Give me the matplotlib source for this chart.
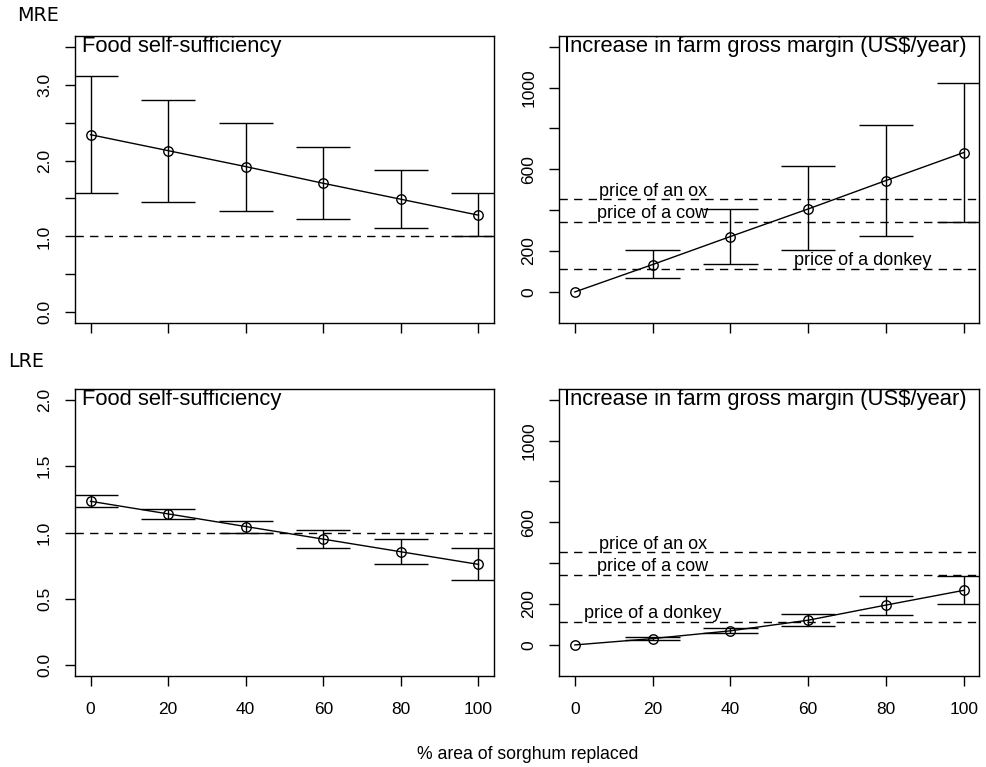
import matplotlib
matplotlib.use("Agg")
import matplotlib.pyplot as plt
import numpy as np

plt.rcParams['font.family'] = ['Liberation Sans', 'DejaVu Sans']

# ---------------- data ----------------
area = [0, 20, 40, 60, 80, 100]

mre_food_mean = [2.34, 2.13, 1.92, 1.70, 1.49, 1.28]
mre_food_low = [1.57, 1.46, 1.34, 1.23, 1.11, 1.00]
mre_food_high = [3.11, 2.80, 2.49, 2.18, 1.87, 1.57]

mre_gm_mean = [0, 134, 271, 406, 545, 682]
mre_gm_low = [0, 67, 135, 205, 272, 344]
mre_gm_high = [0, 205, 408, 615, 817, 1022]

lre_food_mean = [1.235, 1.14, 1.045, 0.95, 0.855, 0.76]
lre_food_low = [1.19, 1.105, 1.00, 0.88, 0.76, 0.64]
lre_food_high = [1.28, 1.175, 1.09, 1.02, 0.95, 0.88]

lre_gm_mean = [0, 31, 69, 121, 195, 267]
lre_gm_low = [0, 25, 56, 93, 146, 198]
lre_gm_high = [0, 41, 85, 151, 240, 337]

price_labels = ["price of an ox", "price of a cow", "price of a donkey"]
price_values = [454, 344, 113]
label_x_top = [20, 20, 74]
label_x_bottom = [20, 20, 20]

food_ticks_top = [0.0, 0.5, 1.0, 1.5, 2.0, 2.5, 3.0, 3.5]
food_labels_top = ["0.0", "", "1.0", "", "2.0", "", "3.0", ""]
food_ticks_bottom = [0.0, 0.5, 1.0, 1.5, 2.0]
food_labels_bottom = ["0.0", "0.5", "1.0", "1.5", "2.0"]
gm_ticks = [0, 200, 400, 600, 800, 1000, 1200]
gm_labels = ["0", "200", "", "600", "", "1000", ""]
x_ticks = [0, 20, 40, 60, 80, 100]

# ---------------- figure ----------------
W, H = 986, 767
fig = plt.figure(figsize=(W / 100, H / 100), dpi=100)


def make_ax(x0, y0, x1, y1):
    return fig.add_axes([x0 / W, 1 - y1 / H, (x1 - x0) / W, (y1 - y0) / H])


ax_tl = make_ax(75, 36, 494, 323)
ax_tr = make_ax(559.3, 36, 979.3, 323)
ax_bl = make_ax(75, 389, 494, 676)
ax_br = make_ax(559.3, 389, 979.3, 676)

LW = 1.0
CAP = 7


def draw_series(ax, mean, low, high):
    x = np.array(area, dtype=float)
    lo = np.array(low, dtype=float)
    hi = np.array(high, dtype=float)
    keep = hi > lo  # zero-length bars are not drawn (as in R's arrows)
    ax.vlines(x[keep], lo[keep], hi[keep], color='black', lw=LW)
    ax.hlines(lo[keep], x[keep] - CAP, x[keep] + CAP, color='black', lw=LW)
    ax.hlines(hi[keep], x[keep] - CAP, x[keep] + CAP, color='black', lw=LW)
    ax.plot(area, mean, color='black', lw=LW, marker='o', markersize=6.8,
            markerfacecolor='none', markeredgewidth=LW)


def style_ax(ax, ylim, yticks, ylabels, show_x):
    span = ylim[1] - ylim[0]
    ax.set_ylim(ylim[0] - 0.04 * span, ylim[1] + 0.04 * span)
    ax.set_xlim(-4, 104)
    ax.set_yticks(yticks)
    ax.set_yticklabels(ylabels, rotation=90, va='center')
    ax.set_xticks(x_ticks)
    if show_x:
        ax.set_xticklabels([str(v) for v in x_ticks])
    else:
        ax.set_xticklabels([])
    ax.tick_params(direction='out', length=7, width=LW, labelsize=12.5, pad=9.5)
    ax.tick_params(axis='x', pad=11.5)
    for s in ax.spines.values():
        s.set_linewidth(LW)


def title(ax, text, dx):
    ax.annotate(text, xy=(0, 1), xycoords='axes fraction', xytext=(dx, -16.3),
                textcoords='offset pixels', ha='left', va='baseline', fontsize=15.8)


dash = (0, (6, 4.5))

# top-left
draw_series(ax_tl, mre_food_mean, mre_food_low, mre_food_high)
ax_tl.axhline(1.0, color='black', lw=LW, linestyle=dash)
style_ax(ax_tl, (0, 3.5), food_ticks_top, food_labels_top, False)
title(ax_tl, "Food self-sufficiency", 7.5)

# bottom-left
draw_series(ax_bl, lre_food_mean, lre_food_low, lre_food_high)
ax_bl.axhline(1.0, color='black', lw=LW, linestyle=dash)
style_ax(ax_bl, (0, 2), food_ticks_bottom, food_labels_bottom, True)
title(ax_bl, "Food self-sufficiency", 7.5)

# right panels
for ax, mean, low, high, lx, show_x in [
    (ax_tr, mre_gm_mean, mre_gm_low, mre_gm_high, label_x_top, False),
    (ax_br, lre_gm_mean, lre_gm_low, lre_gm_high, label_x_bottom, True),
]:
    draw_series(ax, mean, low, high)
    for lab, val, x in zip(price_labels, price_values, lx):
        ax.axhline(val, color='black', lw=LW, linestyle=dash)
        ax.annotate(lab, xy=(x, val), xytext=(0, 8), textcoords='offset pixels',
                    ha='center', va='center', fontsize=13)
    style_ax(ax, (-100, 1200), gm_ticks, gm_labels, show_x)
    title(ax, "Increase in farm gross margin (US$/year)", 5)

fig.text(17 / W, 1 - 15.5 / H, "MRE", family='DejaVu Sans', fontsize=13.8,
         ha='left', va='center')
fig.text(8 / W, 1 - 361.7 / H, "LRE", family='DejaVu Sans', fontsize=13.8,
         ha='left', va='center')
fig.text(527.5 / W, 1 - 759 / H, "% area of sorghum replaced", fontsize=12.7,
         ha='center', va='baseline')

fig.savefig("out.png", dpi=100)
